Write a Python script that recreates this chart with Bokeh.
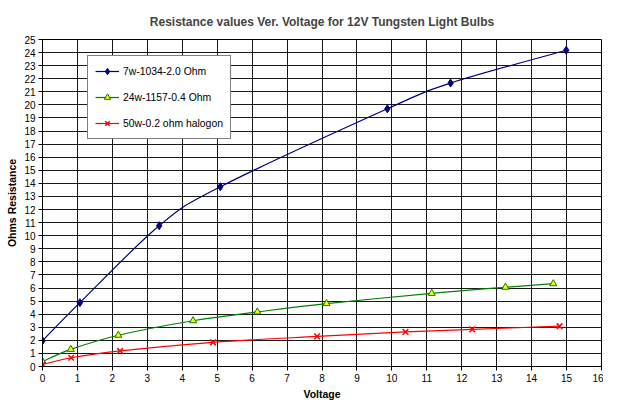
import numpy as np
from bokeh.plotting import figure
from bokeh.models import FixedTicker, Legend, LegendItem, ColumnDataSource, Range1d
from bokeh.embed import file_html
from bokeh.resources import INLINE

title_text = "Resistance values Ver. Voltage for 12V Tungsten Light Bulbs"
x_label = "Voltage"
y_label = "Ohms Resistance"
x_ticks = list(range(0, 17))
y_ticks = list(range(0, 26))

series_names = ["7w-1034-2.0 Ohm", "24w-1157-0.4 Ohm", "50w-0.2 ohm halogon"]
bulb7_v = [0, 1.07, 3.34, 5.09, 9.87, 11.68, 14.99]
bulb7_r = [1.97, 4.88, 10.76, 13.74, 19.70, 21.67, 24.18]
bulb24_v = [0, 0.81, 2.17, 4.31, 6.15, 8.13, 11.14, 13.25, 14.62]
bulb24_r = [0.38, 1.31, 2.39, 3.50, 4.17, 4.81, 5.59, 6.06, 6.33]
bulb50_v = [0, 0.82, 2.22, 4.88, 7.86, 10.39, 12.30, 14.80]
bulb50_r = [0.15, 0.67, 1.19, 1.85, 2.30, 2.64, 2.84, 3.08]

FONT = "Liberation Sans"

p = figure(width=603, height=402, output_backend="svg", toolbar_location=None,
           x_range=Range1d(0, 16), y_range=Range1d(0, 25),
           min_border_left=42, min_border_right=2, min_border_top=39, min_border_bottom=34)

p.title.text = title_text
p.title.text_font = FONT
p.title.text_font_size = "12px"
p.title.text_font_style = "bold"
p.title.align = "center"
p.title.vertical_align = "bottom"
p.title.standoff = 22

p.outline_line_color = "black"
p.outline_line_width = 1

for ax in (p.xaxis[0], p.yaxis[0]):
    ax.major_label_text_font = FONT
    ax.major_label_text_font_size = "10px"
    ax.major_label_text_color = "black"
    ax.axis_label_text_font = FONT
    ax.axis_label_text_font_size = "10.5px"
    ax.axis_label_text_font_style = "bold"
    ax.axis_label_text_color = "black"
    ax.axis_line_color = "black"
    ax.major_tick_line_color = "black"
    ax.major_tick_out = 4
    ax.major_tick_in = 0
    ax.minor_tick_line_color = None
    ax.major_label_standoff = 3
    ax.axis_label_standoff = 3

p.xaxis.axis_label = x_label
p.yaxis.axis_label = y_label
p.xaxis.ticker = FixedTicker(ticks=x_ticks)
p.yaxis.ticker = FixedTicker(ticks=y_ticks)
p.xgrid.ticker = FixedTicker(ticks=x_ticks)
p.ygrid.ticker = FixedTicker(ticks=y_ticks)
p.grid.grid_line_color = "black"
p.grid.grid_line_alpha = 0.9
p.grid.grid_line_width = 1


def smooth_segments(xs, ys):
    pts = np.column_stack([xs, ys]).astype(float)
    n = len(pts)
    d = dict(x0=[], y0=[], x1=[], y1=[], cx0=[], cy0=[], cx1=[], cy1=[])
    for i in range(n - 1):
        p0 = pts[i - 1] if i > 0 else pts[i]
        p1 = pts[i]
        p2 = pts[i + 1]
        p3 = pts[i + 2] if i + 2 < n else pts[i + 1]
        c1 = p1 + (p2 - p0) / 6.0
        c2 = p2 - (p3 - p1) / 6.0
        d["x0"].append(p1[0]); d["y0"].append(p1[1])
        d["x1"].append(p2[0]); d["y1"].append(p2[1])
        d["cx0"].append(c1[0]); d["cy0"].append(c1[1])
        d["cx1"].append(c2[0]); d["cy1"].append(c2[1])
    return ColumnDataSource(d)


styles = [
    dict(color="#000080", marker="diamond", fill="#000080", size=8, lw=1.2),
    dict(color="#008000", marker="triangle", fill="#FFFF00", size=7, lw=1.2),
    dict(color="#FF0000", marker="x", fill="#FF0000", size=8, lw=1.2),
]
data = [(bulb7_v, bulb7_r), (bulb24_v, bulb24_r), (bulb50_v, bulb50_r)]

items = []
for name, (xs, ys), st in zip(series_names, data, styles):
    src = smooth_segments(xs, ys)
    br = p.bezier(x0="x0", y0="y0", x1="x1", y1="y1", cx0="cx0", cy0="cy0",
                  cx1="cx1", cy1="cy1", source=src, line_color=st["color"], line_width=st["lw"])
    sr = p.scatter(xs, ys, marker=st["marker"], size=st["size"], fill_color=st["fill"],
                   line_color=st["color"], line_width=1.5 if st["marker"] == "x" else 1)
    items.append(LegendItem(label=name, renderers=[br, sr]))

legend = Legend(items=items, location=(45, 227))
legend.label_text_font = FONT
legend.label_text_font_size = "10.4px"
legend.label_text_color = "black"
legend.border_line_color = "black"
legend.border_line_width = 1
legend.background_fill_color = "white"
legend.background_fill_alpha = 1
legend.glyph_width = 24
legend.glyph_height = 16
legend.label_height = 16
legend.spacing = 10
legend.padding = 7
legend.margin = 0
legend.label_standoff = 4
p.add_layout(legend)

open("out.html", "w").write(file_html(p, INLINE))
